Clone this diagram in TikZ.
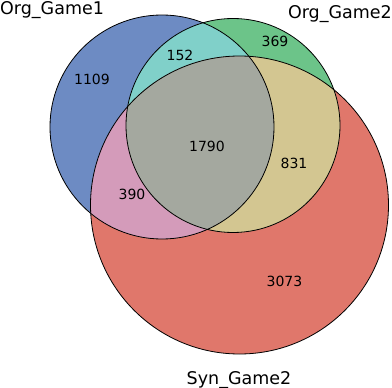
\documentclass[tikz,border=0pt]{standalone}
\usepackage{fontspec}
\setmainfont{DejaVu Sans}
\usepackage{xcolor}
\usepackage{tikz}
\usetikzlibrary{positioning}

\definecolor{gameblue}{HTML}{6D8BC3}
\definecolor{gamegreen}{HTML}{6CC489}
\definecolor{gamered}{HTML}{E0776B}
\definecolor{gamecyan}{HTML}{80D0C9}
\definecolor{gamepink}{HTML}{D49BBA}
\definecolor{gameyellow}{HTML}{D3C691}
\definecolor{gamegrey}{HTML}{A4A89F}

\begin{document}
\begin{tikzpicture}[x=1pt, y=-1pt, font=\fontsize{14}{16}\selectfont,
    setlabel/.style={font=\fontsize{17.5}{20}\selectfont, inner sep=0pt},
    count/.style={inner sep=0pt}]
        \useasboundingbox (0,0) rectangle (392,388);
        \coordinate (cg1) at (162,127);
        \coordinate (cg2) at (233,125.5);
        \coordinate (cs2) at (239.5,205);
        % sets
        \fill[gamered] (cs2) circle[radius=149];
        \fill[gameblue] (cg1) circle[radius=112];
        \fill[gamegreen] (cg2) circle[radius=107];
        % overlaps
        \begin{scope}
          \clip (cg1) circle[radius=112];
          \fill[gamecyan] (cg2) circle[radius=107];
          \fill[gamepink] (cs2) circle[radius=149];
        \end{scope}
        \begin{scope}
          \clip (cg2) circle[radius=107];
          \fill[gameyellow] (cs2) circle[radius=149];
          \clip (cs2) circle[radius=149];
          \fill[gamegrey] (cg1) circle[radius=112];
        \end{scope}
        % outlines
        \draw[line width=0.8pt] (cg1) circle[radius=112];
        \draw[line width=0.8pt] (cg2) circle[radius=107];
        \draw[line width=0.8pt] (cs2) circle[radius=149];
        % labels
        \node[setlabel, anchor=base west] (org1) at (0,14) {Org\_Game1};
        \node[setlabel, anchor=base east] (org2) at (392,19) {Org\_Game2};
        \node[setlabel, anchor=base] (syn2) at (239,384) {Syn\_Game2};
        \node[count] (n1109) at (92,79) {1109};
        \node[count] (n152) at (180,55) {152};
        \node[count] (n369) at (275,41) {369};
        \node[count] (n1790) at (207,146) {1790};
        \node[count] (n831) at (294,163) {831};
        \node[count] (n390) at (132,194) {390};
        \node[count] (n3073) at (284.5,281) {3073};
      \end{tikzpicture}
\end{document}
